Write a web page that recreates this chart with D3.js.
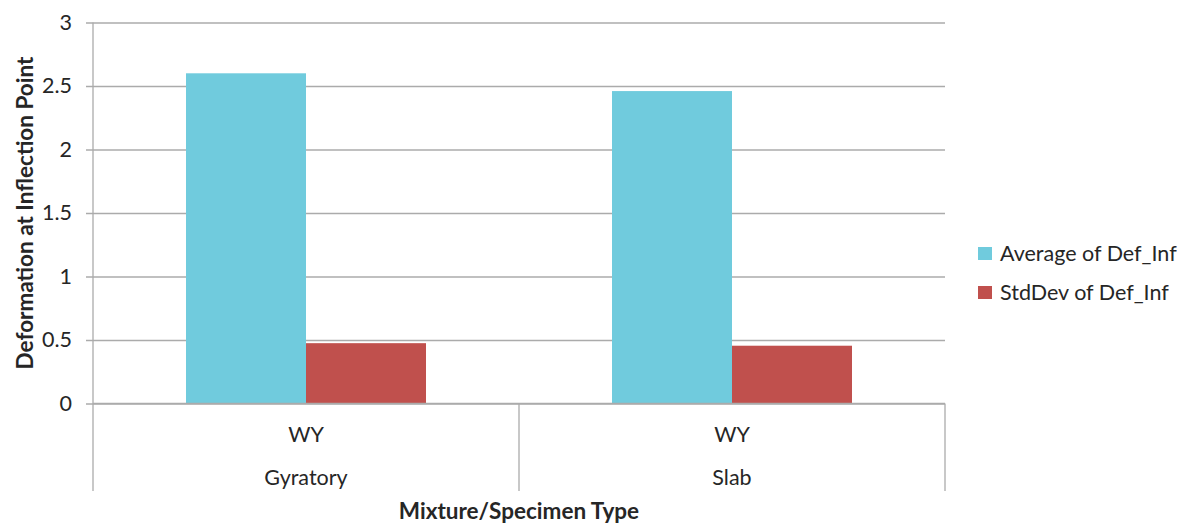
<!DOCTYPE html>
<html>
<head>
<meta charset="utf-8">
<script src="https://cdn.jsdelivr.net/npm/d3@7"></script>
<style>
  html, body { margin: 0; padding: 0; background: #fff; }
  svg text { font-family: Lato, "Open Sans", sans-serif; fill: #262626; }
</style>
</head>
<body>
<svg id="chart" width="1186" height="525"></svg>
<script>
// chart values
const specimenTypes = ["Gyratory", "Slab"];
const mixtures = ["WY", "WY"];
const seriesNames = ["Average of Def_Inf", "StdDev of Def_Inf"];
const averageValues = [2.6, 2.46];
const stdDevValues = [0.475, 0.455];
const yTicks = [0, 0.5, 1, 1.5, 2, 2.5, 3];

const colours = ["#70CBDD", "#C0504D"];
const gridColour = "#ABABAB";
const labelSize = "21.5px", titleSize = "22.5px";

const svg = d3.select("#chart");

// plot box (don't call these top/left etc - window.top clashes)
const plotLeft = 93, plotRight = 945, plotTop = 22.5, plotBottom = 403.5, frameBottom = 491;

const y = d3.scaleLinear().domain([0, 3]).range([plotBottom, plotTop]);
const x0 = d3.scaleBand().domain(specimenTypes).range([plotLeft, plotRight]);
const x1 = d3.scaleBand().domain(seriesNames).range([0, x0.bandwidth()]).paddingOuter(0.775);

// rows for the bars: one per category & series
const rows = specimenTypes.map((t, i) => ({
    type: t,
    values: [averageValues[i], stdDevValues[i]]
}));

// gridlines + tick marks
const yAxis = d3.axisLeft(y).tickValues(yTicks).tickSize(-(plotRight - plotLeft)).tickSizeOuter(0)
    .tickFormat(d => d3.format("")(d));
const gy = svg.append("g").attr("transform", `translate(${plotLeft},0)`).call(yAxis);
gy.select(".domain").remove();
gy.selectAll(".tick line").attr("stroke", gridColour).attr("stroke-width", 1.3).attr("x1", -7);
gy.selectAll(".tick text").attr("x", -21).style("font-size", labelSize).attr("fill", "#262626");

// bars
const groups = svg.append("g").selectAll("g").data(rows).join("g")
    .attr("transform", d => `translate(${x0(d.type)},0)`);
groups.selectAll("rect").data(d => d.values.map((v, k) => ({ name: seriesNames[k], v, k })))
    .join("rect")
    .attr("x", d => x1(d.name))
    .attr("width", x1.bandwidth())
    .attr("y", d => y(d.v))
    .attr("height", d => y(0) - y(d.v))
    .attr("fill", d => colours[d.k]);

// axis frame: left line, zero line, and category separators below
const frame = svg.append("g").attr("stroke", gridColour).attr("stroke-width", 1.3);
frame.append("line").attr("x1", plotLeft).attr("x2", plotLeft).attr("y1", plotTop).attr("y2", frameBottom);
frame.append("line").attr("x1", plotLeft).attr("x2", plotRight).attr("y1", y(0)).attr("y2", y(0));
const seps = [...specimenTypes.slice(1).map(t => x0(t)), plotRight];
frame.selectAll(".sep").data(seps).join("line")
    .attr("class", "sep")
    .attr("x1", d => d).attr("x2", d => d)
    .attr("y1", y(0)).attr("y2", frameBottom);

// two-level category labels
const labels = svg.append("g").style("font-size", labelSize).attr("text-anchor", "middle");
labels.selectAll(".mix").data(mixtures).join("text")
    .attr("class", "mix")
    .attr("x", (d, i) => x0(specimenTypes[i]) + x0.bandwidth() / 2)
    .attr("y", 442)
    .text(d => d);
labels.selectAll(".spec").data(specimenTypes).join("text")
    .attr("class", "spec")
    .attr("x", d => x0(d) + x0.bandwidth() / 2)
    .attr("y", 485)
    .text(d => d);

// axis titles
svg.append("text")
    .attr("x", (plotLeft + plotRight) / 2).attr("y", 519)
    .attr("text-anchor", "middle")
    .style("font-size", titleSize).style("font-weight", "bold")
    .text("Mixture/Specimen Type");
svg.append("text")
    .attr("transform", `translate(33,${(plotTop + plotBottom) / 2}) rotate(-90)`)
    .attr("text-anchor", "middle")
    .style("font-size", titleSize).style("font-weight", "bold")
    .text("Deformation at Inflection Point");

// legend
const legend = svg.append("g").attr("transform", "translate(978,247)");
const items = legend.selectAll("g").data(seriesNames).join("g")
    .attr("transform", (d, i) => `translate(0,${i * 39})`);
items.append("rect").attr("width", 14).attr("height", 13).attr("fill", (d, i) => colours[i]);
items.append("text").attr("x", 22).attr("y", 14)
    .style("font-size", labelSize)
    .text(d => d);
</script>
</body>
</html>
